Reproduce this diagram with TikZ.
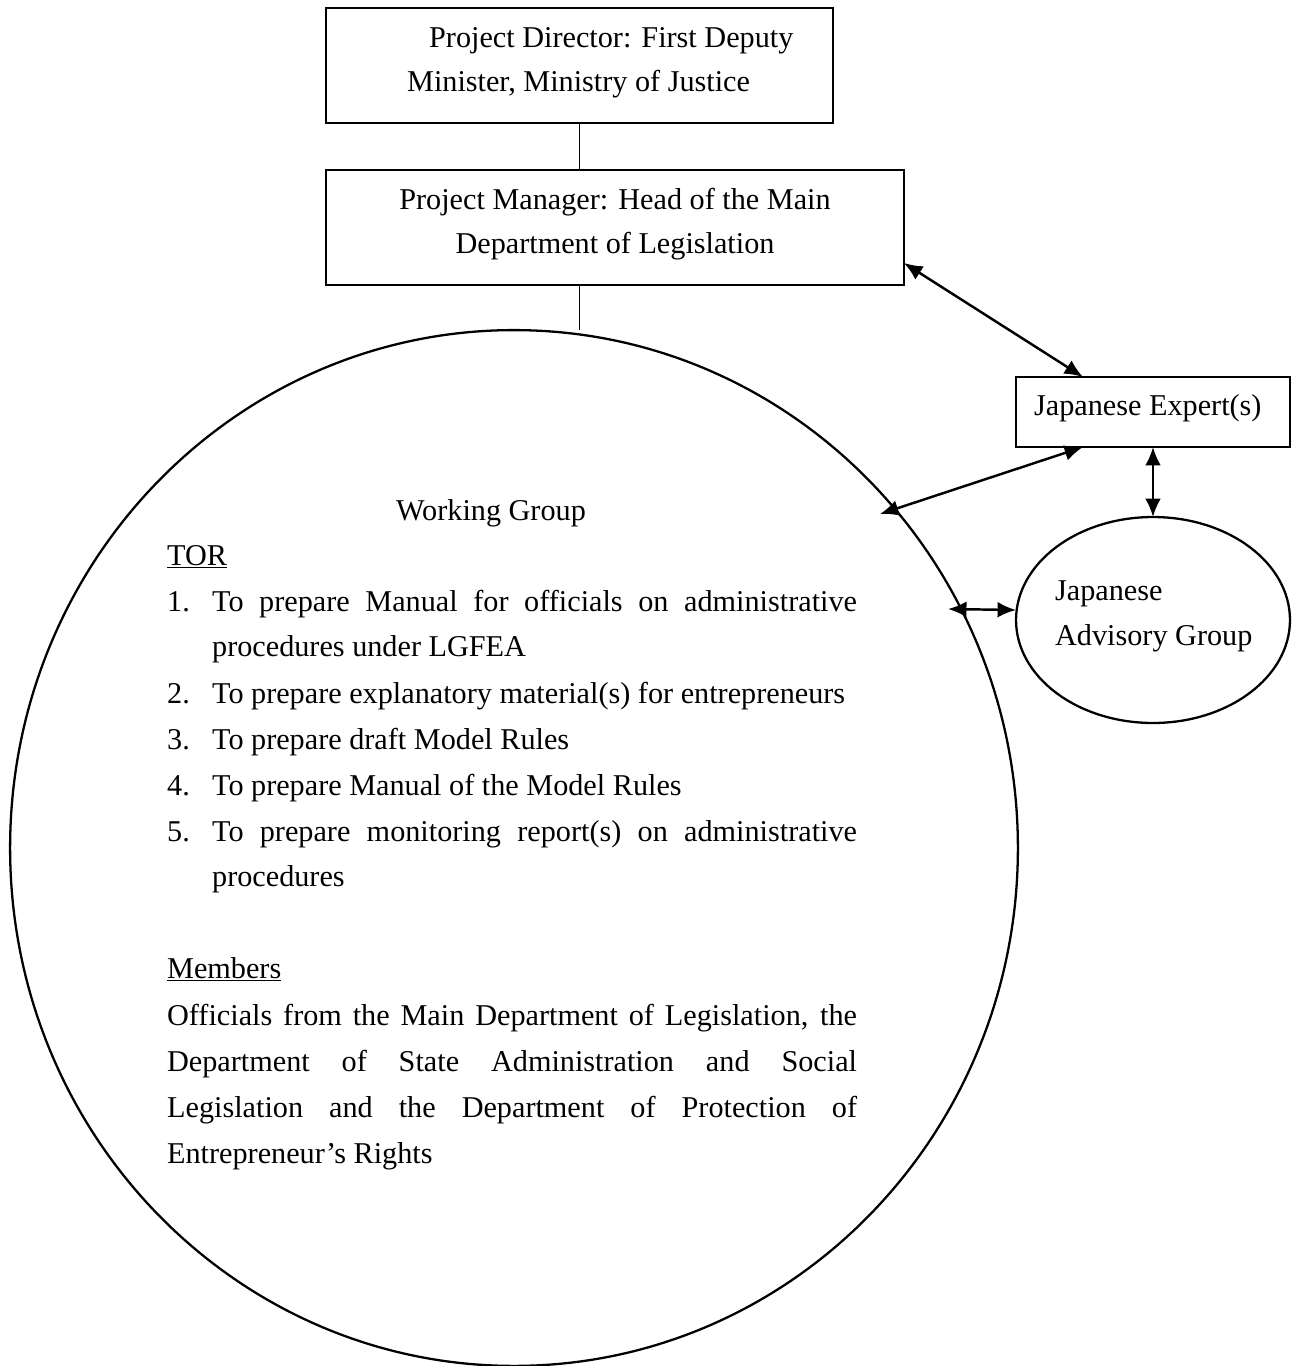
\documentclass[tikz,border=0pt]{standalone}
\usepackage{fontspec}
\setmainfont{Liberation Serif}
\usetikzlibrary{arrows.meta,shapes.geometric,calc}
\begin{document}
\begin{tikzpicture}[x=0.02cm,y=-0.02cm,line width=1.3pt,
  txt/.style={inner sep=0pt,anchor=base west,font=\fontsize{17.2}{26}\selectfont},
  txtc/.style={txt,anchor=base},
  box/.style={draw,rectangle,line width=1.4pt,inner sep=0pt,outer sep=0pt},
  oval/.style={draw,ellipse,line width=1.3pt,inner sep=0pt,outer sep=0pt},
  link/.style={line width=1pt},
  conn/.style={line width=1.4pt,{Latex[length=10.5pt,width=9pt]}-{Latex[length=10.5pt,width=9pt]}}]
\useasboundingbox (0,0) rectangle (1298,1366);

% shapes
\node[box,minimum width=10.14cm,minimum height=2.3cm] (pd) at (579.5,65.5) {};
\node[box,minimum width=11.56cm,minimum height=2.3cm] (pm) at (615,227.5) {};
\node[box,minimum width=5.48cm,minimum height=1.4cm] (je) at (1153,412) {};
\node[oval,minimum width=5.48cm,minimum height=4.12cm] (ja) at (1153,620) {};
\node[oval,minimum width=20.16cm,minimum height=20.72cm] (wg) at (514,848) {};

\coordinate (wgA) at (880,514);
\coordinate (wgB) at (948,609);

% connectors
\draw[link] (pd.south) -- (pd.south |- pm.north);
\draw[link] (pd.south |- pm.south) -- (pd.south |- wg.north);
\draw[conn] (pm.-7) -- ([xshift=-1.4cm]je.north);
\draw[conn] ([xshift=-1.4cm]je.south) -- (wgA);
\draw[conn] (je.south) -- (ja.north);
\draw[conn] (wgB) -- ([yshift=0.2cm]ja.west);

% texts
\node[txt] (pd1) at (428,47) {Project Director: First Deputy};
\node[txt] (pd2) at (406,91) {Minister, Ministry of Justice};
\node[txtc] (pm1) at (615,209) {Project Manager: Head of the Main};
\node[txtc] (pm2) at (615,253) {Department of Legislation};
\node[txt] (je1) at (1033,415) {Japanese Expert(s)};
\node[txt] (ja1) at (1054,600) {Japanese};
\node[txt] (ja2) at (1054,645) {Advisory Group};

\node[txtc] (wg0) at (491,520) {Working Group};
\node[txt] (tor) at (166,565) {\underline{TOR}};
\node[txt] (n1) at (166,611) {1.};
\node[txt] (i1a) at (211,611) {\makebox[12.9cm][s]{To prepare Manual for officials on administrative}};
\node[txt] (i1b) at (211,656) {procedures under LGFEA};
\node[txt] (n2) at (166,703) {2.};
\node[txt] (i2) at (211,703) {To prepare explanatory material(s) for entrepreneurs};
\node[txt] (n3) at (166,749) {3.};
\node[txt] (i3) at (211,749) {To prepare draft Model Rules};
\node[txt] (n4) at (166,795) {4.};
\node[txt] (i4) at (211,795) {To prepare Manual of the Model Rules};
\node[txt] (n5) at (166,841) {5.};
\node[txt] (i5a) at (211,841) {\makebox[12.9cm][s]{To prepare monitoring report(s) on administrative}};
\node[txt] (i5b) at (211,886) {procedures};

\node[txt] (mem) at (166,978) {\underline{Members}};
\node[txt] (m1) at (166,1025) {\makebox[13.8cm][s]{Officials from the Main Department of Legislation, the}};
\node[txt] (m2) at (166,1071) {\makebox[13.8cm][s]{Department of State Administration and Social}};
\node[txt] (m3) at (166,1117) {\makebox[13.8cm][s]{Legislation and the Department of Protection of}};
\node[txt] (m4) at (166,1163) {Entrepreneur’s Rights};
\end{tikzpicture}
\end{document}
